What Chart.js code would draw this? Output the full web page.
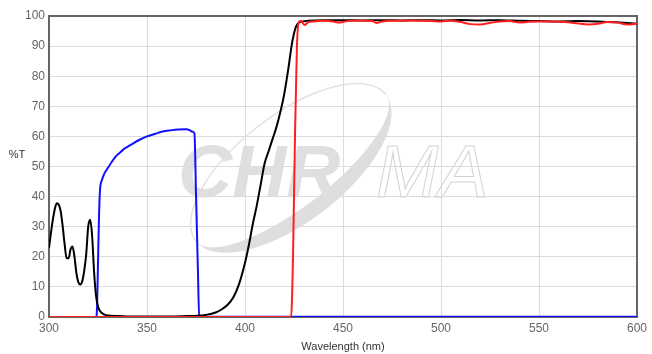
<!DOCTYPE html>
<html>
<head>
<meta charset="utf-8">
<script src="https://cdn.jsdelivr.net/npm/chart.js@4"></script>
<style>
  html, body { margin: 0; padding: 0; background: #fff; }
  #grafico { display: block; }
</style>
</head>
<body>
<canvas id="grafico" width="652" height="354"></canvas>
<script>
// Dados
const pretoX = [300,301,302,303,304,305,306,307,308,309,310,311,312,313,314,315,316,317,318,319,320,321,322,323,324,325,326,327,328,330,335,340,350,360,370,376,380,385,388,391,394,397,400,402,404,406,408,410,412,414,416,418,420,422,424,426,428,432,440,450,460,470,480,490,500,510,520,530,540,550,560,570,580,590,600];
const pretoY = [23,28,32.5,36,37.8,37.3,35,30,24,19.5,19.5,22.5,23.4,20,14.5,11.5,10.8,12,15.5,21,30,32.3,27,15,7,3.5,2,1.3,0.9,0.5,0.3,0.2,0.2,0.2,0.3,0.4,0.7,1.5,2.5,4,6.5,11,18,24,31,37,44,51,55,59,63,68,74,82,91,96.5,98,98.4,98.6,98.6,98.5,98.6,98.5,98.6,98.5,98.7,98.5,98.6,98.4,98.3,98.2,98.3,98.2,97.9,97.4];

const azulX = [300,324,324.5,325,325.5,326,327,328,329,330,332,334,336,338,340,343,346,350,354,358,362,366,370,372,373,374.2,375,376,376.6,380,600];
const azulY = [0,0,3,18,33,42,45.5,47.3,48.5,49.5,51.5,53.3,54.5,55.7,56.5,57.7,58.8,60,60.8,61.6,62,62.3,62.4,62,61.6,61,41,15,0.5,0.1,0.1];

const vermelhoX = [300,423.5,424.5,425.5,426.5,427.5,428.5,430.5,432,435,440,445,448,450,452,455,460,465,467,470,475,480,485,490,495,500,505,510,515,520,525,530,535,540,545,550,555,560,565,570,575,580,585,590,595,600];
const vermelhoY = [0,0,20,60,90,98,98.3,97,97.8,98.2,98.4,98.2,97.8,98,98.3,98.4,98.4,98.3,97.7,98.2,98.4,98.4,98.5,98.4,98.3,98.2,98.4,98,97.3,97.2,97.7,98.2,98.3,97.8,98.1,98.2,98.2,98.1,97.9,97.5,97.2,97.4,98,97.8,97.2,97.5];

const ticksX = [300,350,400,450,500,550,600];
const ticksY = [0,10,20,30,40,50,60,70,80,90,100];

const fonte = 'Liberation Sans, Arial, sans-serif';

function pontos(xs, ys) {
  return xs.map((x, i) => ({ x: x, y: ys[i] }));
}

// Marca d'água CHROMA
const marcaDagua = {
  id: 'marcaDagua',
  beforeDraw(chart) {
    const c = chart.ctx;
    c.save();
    // swoosh
    const cx = 291, cy = 168, a = 120, b = 54, r = -0.656;
    c.fillStyle = '#dedede';
    c.beginPath();
    c.ellipse(cx, cy, a, b, r, 0, Math.PI);
    c.ellipse(cx, cy, a, b - 15, r, Math.PI, 0, true);
    c.closePath();
    c.fill();
    c.strokeStyle = '#e2e2e2';
    c.lineWidth = 1.5;
    c.beginPath();
    c.ellipse(cx, cy, a, b - 1, r, Math.PI, 2 * Math.PI);
    c.stroke();
    // letras
    c.font = 'italic bold 75px ' + fonte;
    c.fillStyle = '#dfdfdf';
    c.textBaseline = 'alphabetic';
    c.fillText('CHR', 178, 197);
    c.font = 'italic 75px ' + fonte;
    c.strokeStyle = '#d2d2d2';
    c.lineWidth = 1;
    c.strokeText('MA', 376, 197);
    c.restore();
  }
};

// Moldura do gráfico e título do eixo Y
const moldura = {
  id: 'moldura',
  beforeDatasetsDraw(chart) {
    const { left, top, right, bottom } = chart.chartArea;
    const c = chart.ctx;
    c.save();
    c.strokeStyle = '#666';
    c.lineWidth = 2;
    c.strokeRect(left, top, right - left, bottom - top);
    c.restore();
  },
  afterDraw(chart) {
    const c = chart.ctx;
    c.save();
    c.font = '11px ' + fonte;
    c.fillStyle = '#333';
    c.textAlign = 'center';
    c.textBaseline = 'middle';
    c.fillText('%T', 17, 155);
    c.restore();
  }
};

const chart = new Chart(document.getElementById('grafico'), {
  type: 'line',
  data: {
    datasets: [
      { data: pontos(vermelhoX, vermelhoY), borderColor: '#ff1f1f', order: 0 },
      { data: pontos(pretoX, pretoY), borderColor: '#000000', order: 1 },
      { data: pontos(azulX, azulY), borderColor: '#1010ff', order: 2 }
    ]
  },
  options: {
    responsive: false,
    animation: false,
    datasets: {
      line: {
        borderWidth: 2,
        pointRadius: 0,
        fill: false,
        cubicInterpolationMode: 'monotone'
      }
    },
    layout: { padding: { left: 0, right: 15, top: 16, bottom: 0 } },
    plugins: {
      legend: { display: false },
      tooltip: { enabled: false }
    },
    scales: {
      x: {
        type: 'linear',
        min: 300,
        max: 600,
        afterBuildTicks: s => { s.ticks = ticksX.map(v => ({ value: v })); },
        afterFit: s => { s.height = 37; },
        ticks: { color: '#666', font: { family: fonte, size: 12 }, padding: 4, maxRotation: 0 },
        grid: { color: '#dcdcdc', drawTicks: false },
        border: { display: false },
        title: { display: true, text: 'Wavelength (nm)', color: '#333', font: { family: fonte, size: 11 }, padding: { top: 2, bottom: 0 } }
      },
      y: {
        min: 0,
        max: 100,
        afterBuildTicks: s => { s.ticks = ticksY.map(v => ({ value: v })); },
        afterFit: s => { s.width = 49; },
        ticks: { color: '#666', font: { family: fonte, size: 12 }, padding: 4 },
        grid: { color: '#dcdcdc', drawTicks: false },
        border: { display: false }
      }
    }
  },
  plugins: [marcaDagua, moldura]
});
</script>
</body>
</html>
